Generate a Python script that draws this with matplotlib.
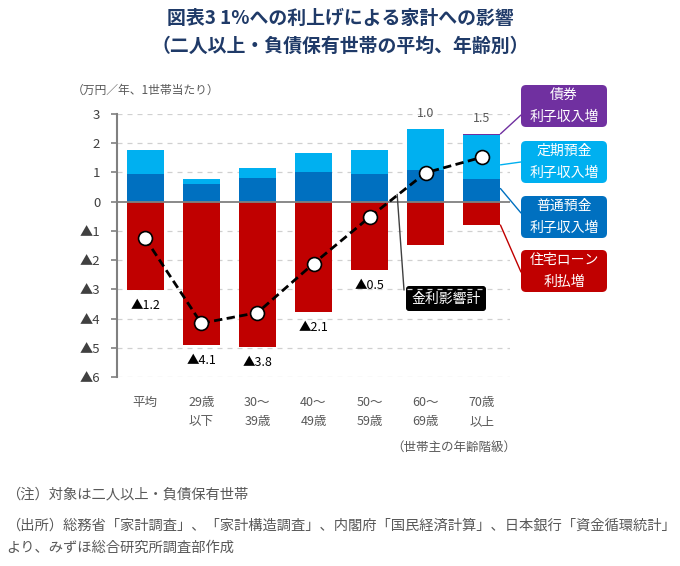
import numpy as np
import matplotlib.pyplot as plt
from matplotlib.patches import FancyBboxPatch, ConnectionPatch

plt.rcParams['font.family'] = ['Noto Sans CJK JP', 'DejaVu Sans']

categories = ["平均", "29歳\n以下", "30～\n39歳", "40～\n49歳", "50～\n59歳", "60～\n69歳", "70歳\n以上"]
futsu = [0.94, 0.60, 0.82, 1.00, 0.94, 1.08, 0.79]      # 普通預金 利子収入増
teiki = [0.83, 0.17, 0.33, 0.66, 0.83, 1.40, 1.50]      # 定期預金 利子収入増
saiken = [0.0, 0.0, 0.0, 0.0, 0.0, 0.0, 0.03]           # 債券 利子収入増
loan = [-3.02, -4.92, -4.97, -3.78, -2.34, -1.47, -0.80]  # 住宅ローン 利払増
total = [-1.25, -4.16, -3.80, -2.12, -0.53, 0.99, 1.52]   # 金利影響計
total_labels = ["▲1.2", "▲4.1", "▲3.8", "▲2.1", "▲0.5", "1.0", "1.5"]
yticks = [3, 2, 1, 0, -1, -2, -3, -4, -5, -6]
ytick_labels = ["3", "2", "1", "0", "▲1", "▲2", "▲3", "▲4", "▲5", "▲6"]

c_red = "#c00000"
c_dark = "#0070c0"
c_light = "#00b0f0"
c_purple = "#7030a0"
c_text = "#595959"

W, H = 680, 566
fig = plt.figure(figsize=(W / 100, H / 100), dpi=100)

# overlay in pixel coordinates for boxes and free text
ov = fig.add_axes([0, 0, 1, 1])
ov.set_xlim(0, W)
ov.set_ylim(H, 0)
ov.axis("off")

ax = fig.add_axes([117 / W, (H - 377) / H, (510 - 117) / W, (377 - 114) / H])
x = np.arange(len(categories))
bw = 0.66
futsu = np.array(futsu)
teiki = np.array(teiki)
saiken = np.array(saiken)

ax.bar(x, futsu, bw, color=c_dark, zorder=2)
ax.bar(x, teiki, bw, bottom=futsu, color=c_light, zorder=2)
ax.bar(x, saiken, bw, bottom=futsu + teiki, color=c_purple, zorder=2)
ax.bar(x, loan, bw, color=c_red, zorder=2)
ax.plot(x, total, color="black", ls=(0, (3, 1.6)), lw=2, marker="o", ms=10,
        mfc="white", mec="black", mew=1.2, zorder=4)

top = futsu + teiki + saiken
for i, lab in enumerate(total_labels):
    if total[i] < 0:
        ax.text(x[i], loan[i] - 0.3, lab, ha="center", va="top", fontsize=9, color="black")
    else:
        ax.text(x[i], top[i] + 0.3, lab, ha="center", va="bottom", fontsize=9, color=c_text)

ax.set_xlim(-0.5, len(categories) - 0.5)
ax.set_ylim(-6, 3)
ax.set_yticks(yticks)
ax.set_yticklabels(ytick_labels, fontsize=9.5, color="#404040")
for t in yticks:
    if t != 0:
        ax.axhline(t, color="#d0d0d0", lw=0.9, ls=(0, (4, 4)), zorder=0)
ax.axhline(0, color="#808080", lw=1.3, zorder=3)
ax.set_xticks(x)
ax.set_xticklabels(categories, fontsize=9, color=c_text, linespacing=1.6)
ax.tick_params(axis="x", length=0, pad=14)
ax.tick_params(axis="y", length=4, width=1.2, color="#808080", pad=8)
for s in ["top", "right", "bottom"]:
    ax.spines[s].set_visible(False)
ax.spines["left"].set_color("#808080")
ax.spines["left"].set_linewidth(1.5)
ax.set_facecolor("none")

# legend boxes on the right
boxes = [
    ("債券\n利子収入増", c_purple, 84, (6 + bw / 2, top[6]), 115),
    ("定期預金\n利子収入増", c_light, 140, (6 + bw / 2, 1.26), 162),
    ("普通預金\n利子収入増", c_dark, 195, (6 + bw / 2, 0.45), 213),
    ("住宅ローン\n利払増", c_red, 249, (6 + bw / 2, loan[6]), 272),
]
for label, col, y0, anchor, yend in boxes:
    ov.add_patch(FancyBboxPatch((521, y0 + 1), 86, 42, boxstyle="round,pad=0,rounding_size=5",
                                fc=col, ec="none"))
    ov.text(564, y0 + 22, label, ha="center", va="center", color="white",
            fontsize=10, linespacing=1.8)
    fig.add_artist(ConnectionPatch(xyA=anchor, coordsA=ax.transData, xyB=(521, yend),
                                   coordsB=ov.transData, color=col, lw=1))

# 金利影響計 callout
ov.add_patch(FancyBboxPatch((406, 286), 80, 25, boxstyle="round,pad=0,rounding_size=3",
                            fc="black", ec="none"))
ov.text(446, 298.5, "金利影響計", ha="center", va="center", color="white", fontsize=10)
fig.add_artist(ConnectionPatch(xyA=(4.49, 0.25), coordsA=ax.transData, xyB=(404, 290),
                               coordsB=ov.transData, color="#404040", lw=1))

# titles and notes
title_col = "#1f3a68"
ov.text(340, 18, "図表3 1%への利上げによる家計への影響", ha="center", va="center",
        fontsize=13.6, fontweight="bold", color=title_col)
ov.text(340, 46, "（二人以上・負債保有世帯の平均、年齢別）", ha="center", va="center",
        fontsize=13.6, fontweight="bold", color=title_col)
ov.text(72, 90, "（万円／年、1世帯当たり）", ha="left", va="center", fontsize=8.5, color=c_text)
ov.text(516, 447, "（世帯主の年齢階級）", ha="right", va="center", fontsize=9, color=c_text)
ov.text(6, 494, "（注）対象は二人以上・負債保有世帯", ha="left", va="center", fontsize=10.3, color=c_text)
ov.text(6, 526, "（出所）総務省「家計調査」、「家計構造調査」、内閣府「国民経済計算」、日本銀行「資金循環統計」",
        ha="left", va="center", fontsize=10.3, color=c_text)
ov.text(6, 548, "より、みずほ総合研究所調査部作成", ha="left", va="center", fontsize=10.3, color=c_text)

fig.savefig("out.png", dpi=100)
